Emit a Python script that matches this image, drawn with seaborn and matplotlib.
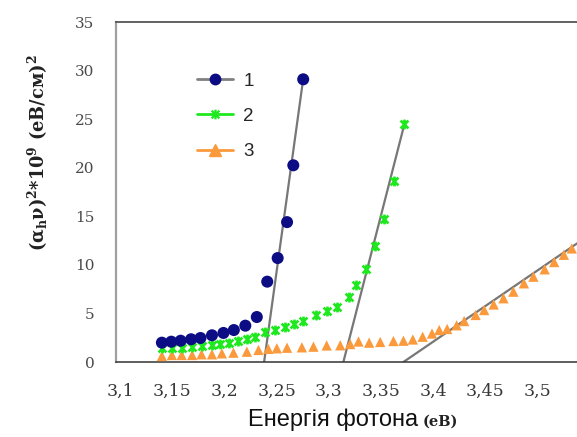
import numpy as np
import pandas as pd
import seaborn as sns
import matplotlib
matplotlib.use("Agg")
import matplotlib.pyplot as plt
from matplotlib.path import Path
from matplotlib.lines import Line2D

# Photon energy (eV) and (alpha*h*nu)^2 * 10^9 (eV/cm)^2 for three samples
energy_1 = [3.140, 3.149, 3.158, 3.168, 3.177, 3.188, 3.199, 3.209, 3.220, 3.231,
            3.241, 3.251, 3.260, 3.266, 3.2755]
value_1 = [1.99, 2.09, 2.19, 2.34, 2.47, 2.75, 2.99, 3.29, 3.74, 4.63,
           8.27, 10.7, 14.4, 20.25, 29.1]

energy_2 = [3.140, 3.1496, 3.159, 3.169, 3.178, 3.188, 3.196, 3.204, 3.2134, 3.2215,
            3.229, 3.239, 3.2486, 3.258, 3.267, 3.2757, 3.2876, 3.2985, 3.3083, 3.319,
            3.326, 3.336, 3.3448, 3.353, 3.3627, 3.372]
value_2 = [1.42, 1.42, 1.42, 1.59, 1.65, 1.75, 1.85, 1.99, 2.20, 2.34,
           2.61, 3.09, 3.29, 3.57, 3.88, 4.27, 4.82, 5.26, 5.68, 6.65,
           7.93, 9.54, 11.94, 14.7, 18.67, 24.5]

energy_3 = [3.140, 3.1496, 3.159, 3.169, 3.178, 3.188, 3.1975, 3.2086, 3.2215, 3.2326,
            3.242, 3.2502, 3.260, 3.2742, 3.2853, 3.298, 3.311, 3.3205, 3.3285, 3.3387,
            3.3493, 3.362, 3.3716, 3.3806, 3.390, 3.399, 3.4059, 3.4135, 3.4226, 3.4298,
            3.4408, 3.449, 3.4581, 3.4675, 3.477, 3.4871, 3.4962, 3.507, 3.5161, 3.5254,
            3.533]
value_3 = [0.62, 0.72, 0.72, 0.72, 0.79, 0.79, 0.89, 0.96, 1.06, 1.24,
           1.35, 1.41, 1.47, 1.51, 1.58, 1.70, 1.72, 1.85, 2.11, 1.99,
           2.06, 2.16, 2.19, 2.32, 2.60, 2.93, 3.29, 3.40, 3.78, 4.22,
           4.84, 5.35, 5.92, 6.56, 7.24, 8.10, 8.78, 9.54, 10.29, 11.04,
           11.69]

# Linear extrapolations of the absorption edges (band gap at y = 0)
fit_1_x = [3.238, 3.2757]
fit_1_y = [0.0, 29.3]
fit_2_x = [3.314, 3.3716]
fit_2_y = [0.0, 24.1]
fit_3_x = [3.3716, 3.540]
fit_3_y = [0.0, 12.35]

series_labels = ["1", "2", "3"]
x_ticks = [3.1, 3.15, 3.2, 3.25, 3.3, 3.35, 3.4, 3.45, 3.5]
x_tick_labels = ["3,1", "3,15", "3,2", "3,25", "3,3", "3,35", "3,4", "3,45", "3,5"]
y_ticks = [0, 5, 10, 15, 20, 25, 30, 35]

navy = "#0c0c84"
green = "#1ee81e"
orange = "#fb9a3c"
fit_grey = "#777777"

sns.set_theme(style="white")
plt.rcParams["mathtext.fontset"] = "dejavuserif"

# six-spoke asterisk marker (x with a vertical bar)
asterisk = Path([(-1, -1), (1, 1), (-1, 1), (1, -1), (0, -1.25), (0, 1.25)],
                [Path.MOVETO, Path.LINETO, Path.MOVETO, Path.LINETO, Path.MOVETO, Path.LINETO])

fig = plt.figure(figsize=(5.77, 4.37), dpi=100)
ax = fig.add_axes([116 / 577, 75 / 437, 461 / 577, 340 / 437])

df1 = pd.DataFrame({"E": energy_1, "v": value_1})
df2 = pd.DataFrame({"E": energy_2, "v": value_2})
df3 = pd.DataFrame({"E": energy_3, "v": value_3})

sns.lineplot(x=fit_1_x, y=fit_1_y, ax=ax, color=fit_grey, lw=1.6, zorder=2)
sns.lineplot(x=fit_2_x, y=fit_2_y, ax=ax, color=fit_grey, lw=1.6, zorder=2)
sns.lineplot(x=fit_3_x, y=fit_3_y, ax=ax, color=fit_grey, lw=1.6, zorder=2)

sns.scatterplot(data=df3, x="E", y="v", ax=ax, marker="^", s=55, color=orange,
                edgecolor="none", zorder=3)
sns.scatterplot(data=df2, x="E", y="v", ax=ax, marker=asterisk, s=50, color=green,
                edgecolor=green, linewidth=1.9, zorder=4)
sns.scatterplot(data=df1, x="E", y="v", ax=ax, marker="o", s=75, color=navy,
                edgecolor="none", zorder=5)

ax.set_xlim(3.096, 3.538)
ax.set_ylim(0, 35)
ax.set_xticks(x_ticks)
ax.set_xticklabels(x_tick_labels, fontfamily="DejaVu Serif", fontsize=12.5, color="#383838")
ax.set_yticks(y_ticks)
ax.set_yticklabels([str(v) for v in y_ticks], fontfamily="DejaVu Serif", fontsize=11,
                   color="#4a4a4a")
ax.tick_params(axis="x", direction="out", length=4, width=1, color="#333333", pad=11)
ax.tick_params(axis="y", direction="out", length=4.5, width=1, color="#aaaaaa", pad=11)
ax.set_xlabel("")

ax.spines["right"].set_visible(False)
ax.spines["top"].set_color("#555555")
ax.spines["top"].set_linewidth(1.3)
ax.spines["left"].set_color("#a0a0a0")
ax.spines["left"].set_linewidth(1.6)
ax.spines["bottom"].set_color("#333333")
ax.spines["bottom"].set_linewidth(1.1)

ax.set_ylabel(r"(α$_{\mathbf{h}}$ν)$^{\mathbf{2}}$*10$^{\mathbf{9}}$ (eB/cм)$^{\mathbf{2}}$",
              fontfamily="DejaVu Serif", fontweight="bold", fontsize=12.8, color="#222222")
ax.yaxis.set_label_coords(-0.143, 0.615)

fig.text(418 / 577, 1 - 426 / 437, "Енергія фотона", ha="right", va="baseline",
         fontfamily="Liberation Sans", fontsize=17, color="#111111")
fig.text(423 / 577, 1 - 426 / 437, "(eB)", ha="left", va="baseline",
         fontfamily="DejaVu Serif", fontweight="bold", fontsize=10.5, color="#222222")

handles = [
    Line2D([], [], color="#808080", lw=2, marker="o", markersize=7.5,
           markerfacecolor=navy, markeredgecolor=navy),
    Line2D([], [], color=green, lw=2, marker=asterisk, markersize=7,
           markeredgecolor=green, markeredgewidth=1.6),
    Line2D([], [], color=orange, lw=2, marker="^", markersize=8.5,
           markerfacecolor=orange, markeredgecolor=orange),
]
ax.legend(handles, series_labels, loc="upper left", bbox_to_anchor=(188 / 577, 1 - 63 / 437),
          bbox_transform=fig.transFigure, frameon=False,
          prop={"family": "Liberation Sans", "size": 13.5},
          handlelength=1.9, handletextpad=0.55, labelspacing=0.98, borderpad=0)

fig.savefig("out.png", dpi=100)
